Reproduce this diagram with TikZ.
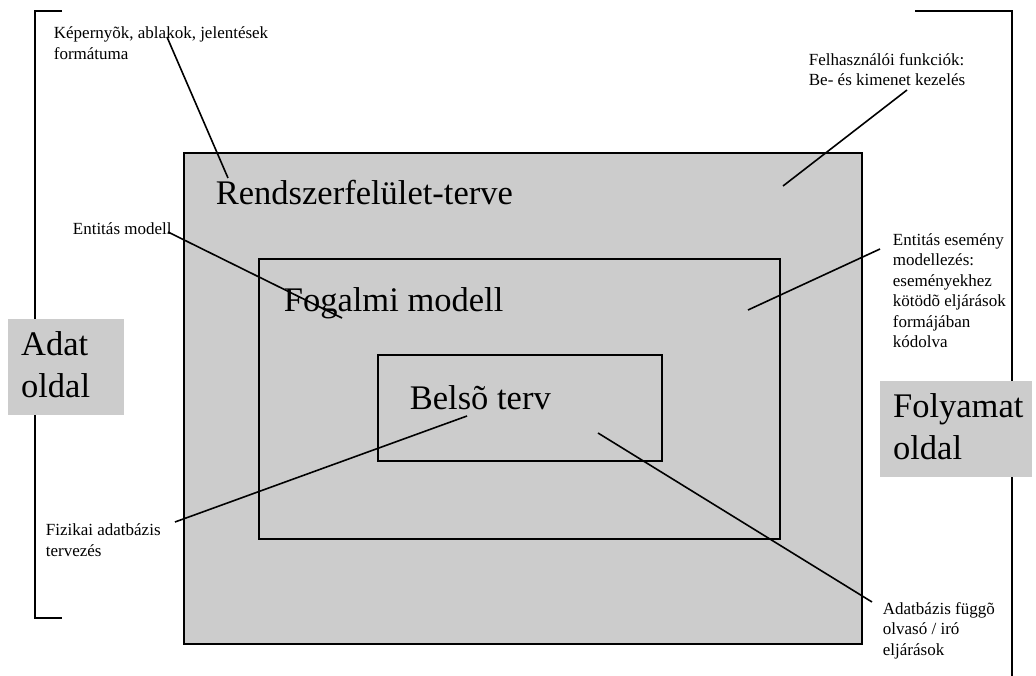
\documentclass[tikz,border=0pt]{standalone}
\usepackage{fontspec}
\setmainfont{Liberation Serif}
\newlength{\du}
\setlength{\du}{1pt}

\begin{document}
\begin{tikzpicture}[
  lbl/.style={anchor=base west, inner sep=0pt, align=left, font=\fontsize{17}{20.5}\selectfont},
  big/.style={anchor=base west, inner sep=0pt, align=left, font=\fontsize{34.5}{42.5}\selectfont}]
\pgftransformxscale{1.000000}
\pgftransformyscale{-1.000000}
\useasboundingbox (0\du,0\du) rectangle (1036\du,676\du);
\definecolor{boxgray}{rgb}{0.800000, 0.800000, 0.800000}
\definecolor{dialinecolor}{rgb}{0.000000, 0.000000, 0.000000}
\pgfsetstrokecolor{dialinecolor}
% brackets
\pgfsetlinewidth{2.200000\du}
\pgfsetmiterjoin
\draw (62\du,11\du)--(35\du,11\du)--(35\du,618\du)--(62\du,618\du);
\draw (915\du,11\du)--(1012\du,11\du)--(1012\du,676\du);
% side labels (multi-line nodes sit on the baseline of their last line)
\fill[boxgray] (8\du,319\du)--(124\du,319\du)--(124\du,415\du)--(8\du,415\du)--cycle;
\node[big] (adat) at (20\du,397.5\du){Adat\\oldal};
\fill[boxgray] (880\du,381\du)--(1032\du,381\du)--(1032\du,477\du)--(880\du,477\du)--cycle;
\node[big] (folyamat) at (892\du,459.5\du){Folyamat\\oldal};
% nested boxes
\pgfsetlinewidth{1.800000\du}
\filldraw[fill=boxgray] (184\du,153\du)--(862\du,153\du)--(862\du,644\du)--(184\du,644\du)--cycle;
\draw (259\du,259\du)--(780\du,259\du)--(780\du,539\du)--(259\du,539\du)--cycle;
\draw (378\du,355\du)--(662\du,355\du)--(662\du,461\du)--(378\du,461\du)--cycle;
\node[big] (rendszer) at (215\du,205\du){Rendszerfelület-terve};
\node[big] (fogalmi) at (283\du,312\du){Fogalmi modell};
\node[big] (belso) at (409\du,409\du){Belsõ terv};
% comments
\node[lbl] (kepernyo) at (53\du,59.5\du){Képernyõk, ablakok, jelentések\\formátuma};
\node[lbl] (felhasznalo) at (808\du,86\du){Felhasználói funkciók:\\Be- és kimenet kezelés};
\node[lbl] (entitas) at (72\du,235\du){Entitás modell};
\node[lbl] (esemeny) at (892\du,347.5\du){Entitás esemény\\modellezés:\\eseményekhez\\kötödõ eljárások\\formájában\\kódolva};
\node[lbl] (fizikai) at (45\du,556\du){Fizikai adatbázis\\tervezés};
\node[lbl] (adatbazis) at (882\du,655\du){Adatbázis függõ\\olvasó / iró\\eljárások};
% pointer lines
\coordinate (kepernyo-a) at (167\du,37\du);
\coordinate (kepernyo-b) at (228\du,178\du);
\coordinate (felhasznalo-a) at (907\du,90\du);
\coordinate (felhasznalo-b) at (783\du,186\du);
\coordinate (entitas-a) at (168\du,232\du);
\coordinate (entitas-b) at (342\du,318\du);
\coordinate (esemeny-a) at (880\du,249\du);
\coordinate (esemeny-b) at (748\du,310\du);
\coordinate (fizikai-a) at (175\du,522\du);
\coordinate (fizikai-b) at (467\du,416\du);
\coordinate (adatbazis-a) at (872\du,602\du);
\coordinate (adatbazis-b) at (598\du,433\du);
\pgfsetlinewidth{1.600000\du}
\pgfsetbuttcap
\draw (kepernyo-a)--(kepernyo-b);
\draw (felhasznalo-a)--(felhasznalo-b);
\draw (entitas-a)--(entitas-b);
\draw (esemeny-a)--(esemeny-b);
\draw (fizikai-a)--(fizikai-b);
\draw (adatbazis-a)--(adatbazis-b);
\end{tikzpicture}
\end{document}
